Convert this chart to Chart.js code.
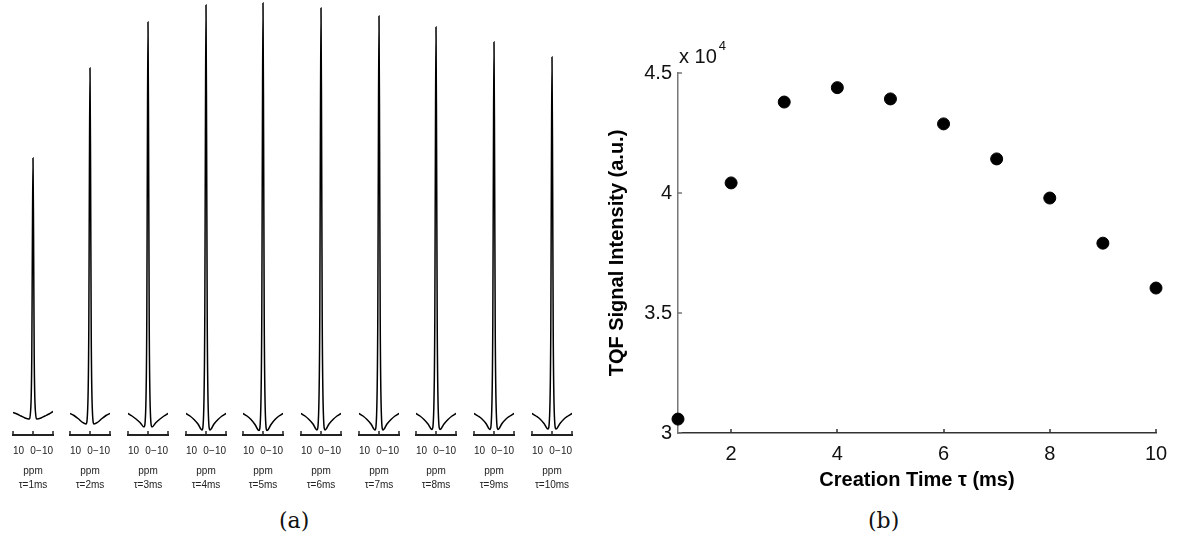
<!DOCTYPE html>
<html><head><meta charset="utf-8">
<script src="https://cdn.jsdelivr.net/npm/chart.js@4.4.1/dist/chart.umd.min.js"></script>
<style>
html,body{margin:0;padding:0;background:#fff;}
#wrap{position:relative;width:1182px;height:539px;overflow:hidden;background:#fff;}
#wrap canvas{position:absolute;top:0;}
.cap{position:absolute;font-family:"DejaVu Serif",serif;font-size:22px;color:#111;line-height:1;}
</style></head><body>
<div id="wrap">
  <div class="cap" style="left:279px;top:510px;">(a)</div>
  <div class="cap" style="left:868px;top:510px;">(b)</div>
</div>
<script>
// ---------- panel (a): TQF spectra ----------
const PPM = [10, 8, 6, 4, 2, 1.2, 0.6, 0.3, 0, -0.3, -0.6, -1.2, -2, -4, -6, -8, -10];
const PPM_TICKS = [-10, 0, 10];
const TAU_LABELS = ['τ=1ms','τ=2ms','τ=3ms','τ=4ms','τ=5ms','τ=6ms','τ=7ms','τ=8ms','τ=9ms','τ=10ms'];
const spec1  = [22.5, 21, 19, 17, 16, 24, 80, 195, 277, 195, 80, 24, 16, 17, 19, 21, 23.5];
const spec2  = [21.5, 19.5, 16.5, 13, 11, 24, 105, 260, 367, 260, 105, 24, 11, 13, 16.5, 19.5, 21.5];
const spec3  = [21.5, 19, 16, 12.5, 8, 22, 115, 290, 413, 290, 115, 22, 8, 12.5, 16, 19, 21.5];
const spec4  = [21.5, 19, 15.5, 11, 5, 20, 120, 300, 430, 300, 120, 20, 5, 11, 15.5, 19, 21.5];
const spec5  = [21.5, 19, 15.5, 10.5, 4.5, 20, 121, 302, 432, 302, 121, 20, 4.5, 10.5, 15.5, 19, 21.5];
const spec6  = [21.5, 19, 15.5, 11, 5, 21, 119, 299, 427, 299, 119, 21, 5, 11, 15.5, 19, 21.5];
const spec7  = [21.5, 19, 15.5, 11, 5, 20, 117, 293, 419, 293, 117, 20, 5, 11, 15.5, 19, 21.5];
const spec8  = [21.5, 19, 15.5, 11, 5.5, 20, 114, 285, 408, 285, 114, 20, 5.5, 11, 15.5, 19, 21.5];
const spec9  = [21.5, 19, 16, 11.5, 5.5, 20, 110, 275, 393, 275, 110, 20, 5.5, 11.5, 16, 19, 21.5];
const spec10 = [21.5, 19, 16, 11.5, 6, 19, 106, 265, 378, 265, 106, 19, 6, 11.5, 16, 19, 21.5];
const SPECTRA = [spec1, spec2, spec3, spec4, spec5, spec6, spec7, spec8, spec9, spec10];

// ---------- panel (b): TQF signal vs creation time ----------
const TAU = [1, 2, 3, 4, 5, 6, 7, 8, 9, 10];
const TQF = [30580, 40420, 43790, 44390, 43920, 42880, 41420, 39790, 37910, 36040];
const X_TICKS = [2, 4, 6, 8, 10];
const Y_TICKS = [30000, 35000, 40000, 45000];

Chart.defaults.font.family = '"Liberation Sans", Arial, Helvetica, sans-serif';
Chart.defaults.color = '#111';
Chart.defaults.animation = false;

const innerTicks = {
  id: 'innerTicks',
  afterDraw(chart, args, opts) {
    const ctx = chart.ctx;
    ['x', 'y'].forEach(id => {
      const o = opts[id]; const s = chart.scales[id];
      if (!o || !s) return;
      ctx.save();
      ctx.strokeStyle = o.color; ctx.lineWidth = o.width;
      s.ticks.forEach(t => {
        const p = Math.round(s.getPixelForValue(t.value));
        ctx.beginPath();
        if (s.isHorizontal()) { ctx.moveTo(p, s.top); ctx.lineTo(p, s.top - o.length); }
        else { ctx.moveTo(s.right, p); ctx.lineTo(s.right + o.length, p); }
        ctx.stroke();
      });
      ctx.restore();
    });
  }
};

const expLabel = {
  id: 'expLabel',
  afterDraw(chart) {
    const s = chart.scales.y, ctx = chart.ctx;
    ctx.save();
    ctx.fillStyle = '#111';
    ctx.textBaseline = 'alphabetic';
    ctx.textAlign = 'left';
    ctx.font = '20px "Liberation Sans", Arial, sans-serif';
    const base = 'x 10';
    ctx.fillText(base, s.right + 1, s.top - 10);
    const w = ctx.measureText(base).width;
    ctx.font = '13px "Liberation Sans", Arial, sans-serif';
    ctx.fillText('4', s.right + 3 + w, s.top - 23);
    ctx.restore();
  }
};

const wrap = document.getElementById('wrap');
const CENTER0 = 32.5, STEP = 57.7, HALF = 29;

SPECTRA.forEach((s, i) => {
  const cv = document.createElement('canvas');
  cv.width = 58; cv.height = 539;
  cv.style.left = Math.round(CENTER0 + STEP * i - HALF) + 'px';
  wrap.appendChild(cv);
  new Chart(cv, {
    type: 'line',
    data: { datasets: [{
      data: PPM.map((x, k) => ({ x: x, y: s[k] })),
      borderColor: '#000', borderWidth: 1.5, pointRadius: 0,
      cubicInterpolationMode: 'monotone', fill: false
    }] },
    options: {
      responsive: false, animation: false, events: [],
      layout: { padding: { left: 9, right: 9, top: 0, bottom: 0 } },
      plugins: {
        legend: { display: false }, tooltip: { enabled: false },
        innerTicks: { x: { length: 4, width: 1.5, color: '#222' } }
      },
      scales: {
        x: {
          type: 'linear', reverse: true, min: -10, max: 10,
          afterBuildTicks: sc => { sc.ticks = PPM_TICKS.map(v => ({ value: v })); },
          border: { display: true, color: '#222', width: 2 },
          grid: { display: true, drawOnChartArea: false, drawTicks: false },
          ticks: {
            align: 'inner', padding: 10, autoSkip: false, maxRotation: 0,
            font: { size: 10 }, color: '#222',
            callback: v => v < 0 ? '\u2212' + Math.abs(v) : String(v)
          },
          title: {
            display: true, text: ['ppm', TAU_LABELS[i]],
            font: { size: 10, lineHeight: 1.4 }, color: '#222',
            padding: { top: 0, bottom: 47 }
          },
          afterFit: sc => { sc.height = 104; }
        },
        y: { display: false, min: 0, max: 435 }
      }
    },
    plugins: [innerTicks]
  });
});

const cb = document.createElement('canvas');
cb.width = 582; cb.height = 539; cb.style.left = '600px';
wrap.appendChild(cb);
new Chart(cb, {
  type: 'scatter',
  data: { datasets: [{
    data: TAU.map((t, k) => ({ x: t, y: TQF[k] })),
    backgroundColor: '#000', borderColor: '#000', borderWidth: 1,
    pointRadius: 6, clip: false
  }] },
  options: {
    responsive: false, animation: false, events: [],
    layout: { padding: { left: 0, right: 26, top: 73, bottom: 0 } },
    plugins: {
      legend: { display: false }, tooltip: { enabled: false },
      innerTicks: { x: { length: 4, width: 1.5, color: '#333' }, y: { length: 4, width: 1.5, color: '#777' } }
    },
    scales: {
      x: {
        type: 'linear', min: 1, max: 10,
        afterBuildTicks: sc => { sc.ticks = X_TICKS.map(v => ({ value: v })); },
        border: { display: true, color: '#333', width: 1.5 },
        grid: { display: true, drawOnChartArea: false, drawTicks: false },
        ticks: { padding: 9, font: { size: 20 }, color: '#111', autoSkip: false, maxRotation: 0 },
        title: { display: true, text: 'Creation Time \u03C4 (ms)', font: { size: 20, weight: 'bold' }, color: '#000', padding: { top: 0, bottom: 47 } },
        afterFit: sc => { sc.height = 106; }
      },
      y: {
        min: 30000, max: 45000,
        afterBuildTicks: sc => { sc.ticks = Y_TICKS.map(v => ({ value: v })); },
        border: { display: true, color: '#777', width: 1.5 },
        grid: { display: true, drawOnChartArea: false, drawTicks: false },
        ticks: { padding: 6, font: { size: 20 }, color: '#111', callback: v => String(v / 1e4) },
        title: { display: true, text: 'TQF Signal Intensity (a.u.)', font: { size: 20, weight: 'bold' }, color: '#000', padding: { top: 5, bottom: 0 } },
        afterFit: sc => { sc.width = 78; }
      }
    }
  },
  plugins: [innerTicks, expLabel]
});
</script></body></html>
